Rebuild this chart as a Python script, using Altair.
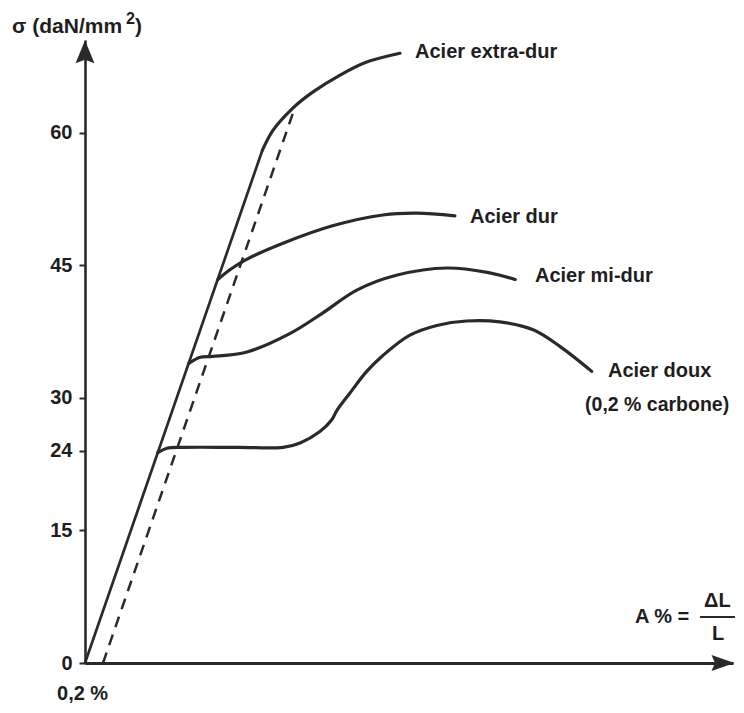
import altair as alt
import pandas as pd

INK = "#2a2a2a"
FONT = "Liberation Sans"

# ---- stress-strain curves (x: A %, y: sigma daN/mm2) ----
elastic_x = [0.0, 1.97]
elastic_y = [0.0, 58.0]

extra_dur_x = [1.97, 2.09, 2.31, 2.53, 2.83, 3.13, 3.50]
extra_dur_y = [58.0, 60.3, 62.8, 64.6, 66.5, 68.0, 69.0]

dur_x = [1.476, 1.61, 1.78, 2.20, 2.76, 3.31, 3.69, 4.11]
dur_y = [43.4, 44.5, 45.6, 47.5, 49.5, 50.7, 50.9, 50.6]

mi_dur_x = [1.153, 1.28, 1.42, 1.80, 2.28, 2.64, 3.02, 3.47, 4.02, 4.47, 4.78]
mi_dur_y = [33.9, 34.6, 34.7, 35.2, 37.3, 39.6, 42.2, 43.9, 44.7, 44.2, 43.4]

doux_x = [0.809, 0.91, 1.09, 1.70, 2.20, 2.39, 2.61, 2.74, 2.80, 2.94, 3.13, 3.31, 3.61,
          3.91, 4.24, 4.61, 4.98, 5.28, 5.63]
doux_y = [23.8, 24.3, 24.4, 24.4, 24.4, 24.9, 26.2, 27.5, 28.6, 30.5, 33.0, 34.8, 37.1,
          38.2, 38.7, 38.6, 37.7, 35.8, 33.0]

# offset (0,2 %) parallel line
offset_x = [0.2, 2.333]
offset_y = [0.0, 62.9]

y_ticks = [0, 15, 24, 30, 45, 60]

# ---- annotations ----
label_text = ["Acier extra-dur", "Acier dur", "Acier mi-dur", "Acier doux",
              "(0,2 % carbone)", "0,2 %", "σ (daN/mm", "2", ")", "A % =", "ΔL", "L"]
label_x = [3.667, 4.278, 5.0, 5.811, 5.556, -0.311, -0.811, 0.456, 0.556, 6.111, 6.878, 6.967]
label_y = [68.44, 49.77, 43.10, 32.35, 28.51, -4.19, 71.27, 72.28, 71.27, 4.52, 6.33, 2.60]
label_size = [20, 20, 20, 20, 19.5, 20, 21, 16, 21, 20, 20, 20]

frac_x = [6.833]
frac_x2 = [7.222]
frac_y = [5.20]

arrow_x = [0.0, 7.089]
arrow_y = [69.17, 0.0]

rows = []
for name, xs_, ys_, interp in [("Élastique", elastic_x, elastic_y, 0),
                               ("Acier extra-dur", extra_dur_x, extra_dur_y, 1),
                               ("Acier dur", dur_x, dur_y, 1),
                               ("Acier mi-dur", mi_dur_x, mi_dur_y, 1),
                               ("Acier doux", doux_x, doux_y, 1)]:
    for i, (x, y) in enumerate(zip(xs_, ys_)):
        rows.append({"serie": name, "x": x, "y": y, "order": i, "smooth": interp})
df = pd.DataFrame(rows)
df_off = pd.DataFrame({"x": offset_x, "y": offset_y})
df_lab = pd.DataFrame({"t": label_text, "x": label_x, "y": label_y, "fs": label_size})
df_frac = pd.DataFrame({"x": frac_x, "x2": frac_x2, "y": frac_y})
df_arrow_y = pd.DataFrame({"x": arrow_x[:1], "y": arrow_y[:1]})
df_arrow_x = pd.DataFrame({"x": arrow_x[1:], "y": arrow_y[1:]})

xs = alt.Scale(domain=[0, 7.2], nice=False, zero=False)
ys = alt.Scale(domain=[0, 70.5], nice=False, zero=False)

base = alt.Chart(df)

elastic = base.transform_filter("datum.smooth == 0").mark_line(
    strokeWidth=2.7, color=INK, strokeCap="round"
).encode(
    x=alt.X("x:Q", scale=xs,
            axis=alt.Axis(title=None, labels=False, ticks=False, grid=False,
                          domain=True, domainWidth=3, domainColor=INK)),
    y=alt.Y("y:Q", scale=ys,
            axis=alt.Axis(title=None, values=y_ticks, grid=False, domain=True,
                          domainWidth=2.6, domainColor=INK, ticks=True,
                          tickSize=6, tickWidth=2, tickColor=INK,
                          labelFont=FONT, labelFontSize=20, labelFontWeight="bold",
                          labelColor="#1e1e1e", labelPadding=7)),
    order="order:Q",
)

curves = base.transform_filter("datum.smooth == 1").mark_line(
    interpolate="catmull-rom", strokeWidth=3.2, color=INK, strokeCap="round"
).encode(
    x=alt.X("x:Q", scale=xs), y=alt.Y("y:Q", scale=ys),
    detail="serie:N", order="order:Q",
)

dashed = alt.Chart(df_off).mark_line(
    strokeWidth=2.5, color=INK, strokeDash=[11, 8]
).encode(x=alt.X("x:Q", scale=xs), y=alt.Y("y:Q", scale=ys))

up_arrow = alt.Chart(df_arrow_y).mark_point(
    shape="M0,-1L0.82,1L0,0.7L-0.82,1Z", size=529, filled=True, color=INK, opacity=1, strokeWidth=0
).encode(x=alt.X("x:Q", scale=xs), y=alt.Y("y:Q", scale=ys))

right_arrow = alt.Chart(df_arrow_x).mark_point(
    shape="M1,0L-1,-0.7L-0.7,0L-1,0.7Z", size=529, filled=True, color=INK, opacity=1, strokeWidth=0
).encode(x=alt.X("x:Q", scale=xs), y=alt.Y("y:Q", scale=ys))

labels = alt.Chart(df_lab).mark_text(
    align="left", baseline="alphabetic", font=FONT, fontWeight="bold", color="#1e1e1e"
).encode(
    x=alt.X("x:Q", scale=xs), y=alt.Y("y:Q", scale=ys),
    text="t:N", size=alt.Size("fs:Q", scale=None),
)

frac = alt.Chart(df_frac).mark_rule(strokeWidth=2, color=INK).encode(
    x=alt.X("x:Q", scale=xs), x2="x2:Q", y=alt.Y("y:Q", scale=ys)
)

chart = alt.layer(elastic, curves, dashed, up_arrow, right_arrow, labels, frac).properties(
    width=648, height=623,
    autosize=alt.AutoSizeParams(type="none"),
    padding={"left": 77, "top": 32, "right": 3, "bottom": 42},
    background="white",
).configure_view(stroke=None)

chart.save("out.html", embed_options={"renderer": "svg", "actions": False})
